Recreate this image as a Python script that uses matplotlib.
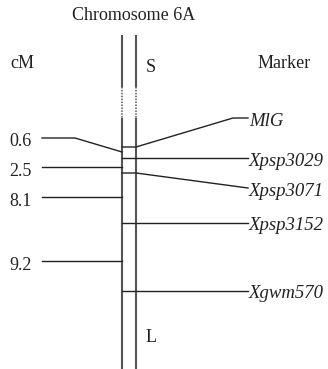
import matplotlib
matplotlib.use('Agg')
import matplotlib.pyplot as plt

# linkage map data (positions are drawing units along the chromosome, top = 0)
markers = ['MlG', 'Xpsp3029', 'Xpsp3071', 'Xpsp3152', 'Xgwm570']
marker_pos = [147, 158, 173, 223, 291]
marker_label_pos = [118, 158, 188, 223, 291]
cm_values = ['0.6', '2.5', '8.1', '9.2']
cm_pos = [152, 167, 197, 261]
cm_label_pos = [138, 167, 197, 261]

plt.rcParams['font.family'] = ['Liberation Serif', 'DejaVu Serif']
ink = '#222222'
fs = 13

fig = plt.figure(figsize=(3.28, 3.69), dpi=100)
ax = fig.add_axes([0, 0, 1, 1])
ax.set_xlim(0, 328)
ax.set_ylim(369, 0)
ax.axis('off')

# chromosome: two rails with a dotted (centromere) gap
left_x, right_x = 122, 136
for x in (left_x, right_x):
    ax.plot([x, x], [35, 87], color='#555555', lw=1.5, solid_capstyle='butt')
    ax.plot([x, x], [87, 118], color='#777777', lw=1.5, ls=(0, (0.7, 0.7)))
    ax.plot([x, x], [118, 369], color='#555555', lw=1.5, solid_capstyle='butt')

# markers on the right
for name, pos, lab in zip(markers, marker_pos, marker_label_pos):
    if lab == pos:
        ax.plot([left_x, 248], [pos, pos], color=ink, lw=1.0)
    elif lab < pos:
        ax.plot([left_x, right_x, 233, 248], [pos, pos, lab, lab], color=ink, lw=1.0)
    else:
        ax.plot([left_x, right_x, 248], [pos, pos, lab], color=ink, lw=1.0)
    ax.text(249, lab + 1, name, style='italic', fontsize=13.5, color=ink,
            ha='left', va='center_baseline')

# cM intervals on the left
for val, pos, lab in zip(cm_values, cm_pos, cm_label_pos):
    if lab == pos:
        ax.plot([42, left_x], [pos, pos], color=ink, lw=1.0)
    else:
        ax.plot([42, 75, left_x], [lab, lab, pos], color=ink, lw=1.0)
    ax.text(9, lab + 2, val, fontsize=fs, color=ink, ha='left', va='center_baseline')

ax.text(134, 15, 'Chromosome 6A', fontsize=fs, color=ink, ha='center', va='center')
ax.text(10, 63, 'cM', fontsize=fs, color=ink, ha='left', va='center')
ax.text(258, 63, 'Marker', fontsize=fs, color=ink, ha='left', va='center')
ax.text(146, 68, 'S', fontsize=fs, color=ink, ha='left', va='center')
ax.text(146, 338, 'L', fontsize=fs, color=ink, ha='left', va='center')

fig.savefig('out.png', dpi=100)
